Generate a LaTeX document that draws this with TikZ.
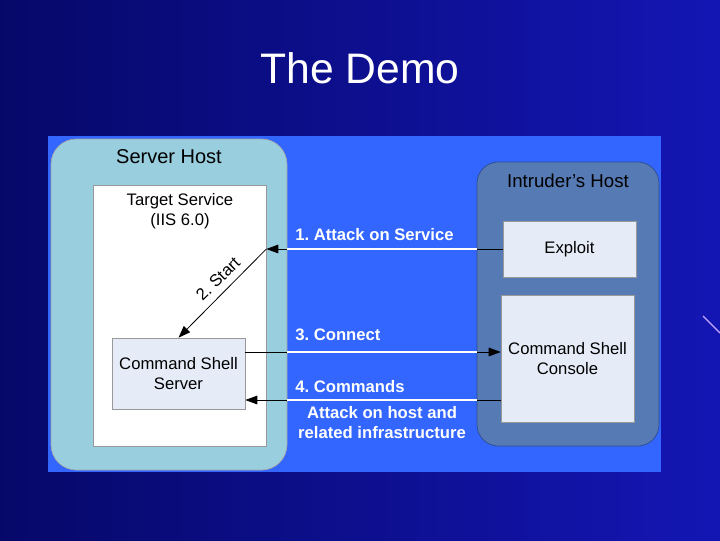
\documentclass[tikz,border=0pt]{standalone}
\usepackage{fontspec}
\setmainfont{Liberation Sans}
\frenchspacing
\usetikzlibrary{arrows.meta,fit,positioning}
\definecolor{bgleft}{RGB}{6,8,105}
\definecolor{bgright}{RGB}{20,22,180}
\definecolor{panelblue}{RGB}{51,102,255}
\definecolor{serverfill}{RGB}{153,206,222}
\definecolor{intruderfill}{RGB}{86,122,180}
\definecolor{intruderline}{RGB}{45,75,140}
\definecolor{boxfill}{RGB}{230,236,247}
\definecolor{streak}{RGB}{200,170,255}
\tikzset{
  hostbox/.style={draw=gray!70, inner sep=0pt, line width=0.5pt},
  innerbox/.style={draw=gray!80, fill=boxfill, inner sep=0pt, line width=0.5pt},
  boxtext/.style={align=center, font=\fontsize{12.5}{15}\selectfont, text=black},
  linktext/.style={text=white, font=\bfseries\fontsize{12.5}{15}\selectfont, inner sep=0.75pt},
  link/.style={draw=black, line width=0.6pt, -{Triangle[length=9pt,width=6.5pt]}},
  wire/.style={draw=white, line width=1.6pt}
}
\begin{document}
\begin{tikzpicture}[x=0.75pt,y=0.75pt,yscale=-1,xscale=1]
\useasboundingbox (0,0) rectangle (720,540);
% background
\fill [left color=bgleft, right color=bgright] (0,0) rectangle (720,540);
\draw [streak, line width=0.8pt] (703,316) -- (720,333);
\node (title) at (360,68) [text=white, font=\fontsize{32}{38}\selectfont] {The Demo};
% hosts
\node (panel) [fit={(48,136) (661,472)}, inner sep=0pt, fill=panelblue] {};
\node (server) [hostbox, fit={(51,139) (287,470)}, rounded corners=19pt, fill=serverfill] {};
\node (intruder) [hostbox, draw=intruderline, fit={(477,162) (659,446)}, rounded corners=16pt, fill=intruderfill] {};
\node (servertitle) at (169,157) [boxtext, font=\fontsize{15}{18}\selectfont] {Server Host};
\node (intrudertitle) at (568,181) [boxtext, font=\fontsize{14}{17}\selectfont] {Intruder’s Host};
% boxes
\node (target) [innerbox, fill=white, fit={(93,185) (266,446)}] {};
\node (targettext) at (180,211) [boxtext] {Target Service\\(IIS 6.0)};
\node (css) [innerbox, fit={(112,338) (245,409)}] {};
\node (csstext) at (css.center) [boxtext] {Command Shell\\Server};
\node (exploit) [innerbox, fit={(503,221) (636,277)}] {};
\node (exploittext) at (exploit.center) [boxtext] {Exploit};
\node (console) [innerbox, fit={(501,295) (634,422)}] {};
\node (consoletext) at (console.center) [boxtext] {Command Shell\\Console};
% connectors
\coordinate (hit) at (exploit.west -| target.east);
\coordinate (c3) at (245,352);
\coordinate (c4) at (501,400);
\draw [link] (exploit.west) -- (hit);
\draw [wire] (exploit.west -| server.east) -- (exploit.west -| intruder.west);
\draw [link] (hit) -- (css.north);
\node (l2) at (218,279) [rotate=44, text=black, font=\fontsize{12.5}{15}\selectfont] {2. Start};
\draw [link] (c3) -- (c3 -| console.west);
\draw [wire] (c3 -| server.east) -- (c3 -| intruder.west);
\draw [link] (c4) -- (c4 -| css.east);
\draw [wire] (c4 -| server.east) -- (c4 -| intruder.west);
% labels
\node (l1) at (294,235) [linktext, anchor=west] {1. Attack on Service};
\node (l3) at (294,335) [linktext, anchor=west] {3. Connect};
\node (l4) at (294,387) [linktext, anchor=west] {4. Commands};
\node (l5) at (382,423) [linktext, align=center] {Attack on host and\\related infrastructure};
\end{tikzpicture}
\end{document}
